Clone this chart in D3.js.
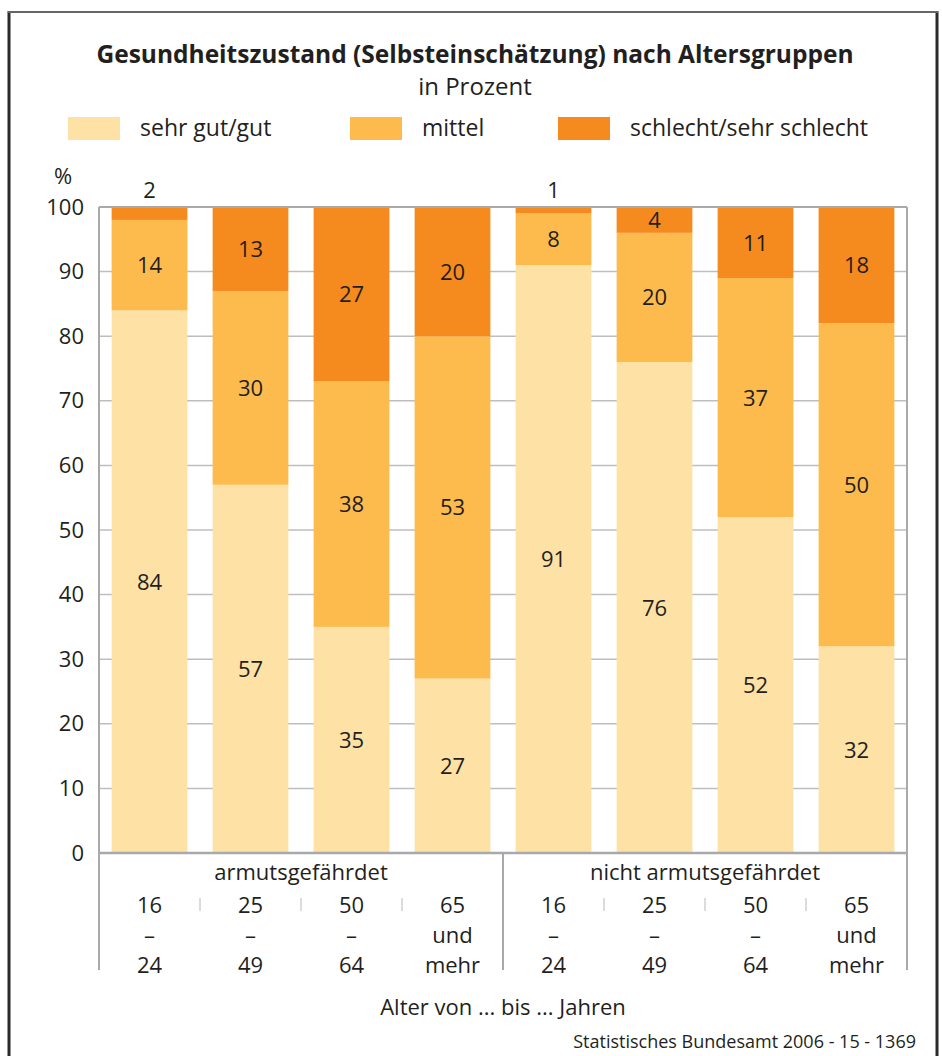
<!DOCTYPE html>
<html>
<head>
<meta charset="utf-8">
<style>
  body { margin: 0; background: #fff; }
  svg text { font-family: "Open Sans", sans-serif; fill: #231f20; }
</style>
</head>
<body>
<svg id="chart" width="942" height="1056"></svg>
<script src="https://cdnjs.cloudflare.com/ajax/libs/d3/7.8.5/d3.min.js"></script>
<script>
// data
var groups = ["armutsgefährdet", "nicht armutsgefährdet"];
var ageTop = ["16", "25", "50", "65"];
var ageMid = ["–", "–", "–", "und"];
var ageBottom = ["24", "49", "64", "mehr"];
var seriesNames = ["sehr gut/gut", "mittel", "schlecht/sehr schlecht"];
var gut = [84, 57, 35, 27, 91, 76, 52, 32];
var mittel = [14, 30, 38, 53, 8, 20, 37, 50];
var schlecht = [2, 13, 27, 20, 1, 4, 11, 18];
var yTicks = [0, 10, 20, 30, 40, 50, 60, 70, 80, 90, 100];
var colors = ["#fee1a4", "#fdbb4e", "#f58a1f"];

var svg = d3.select("#chart");

// frame
svg.append("line").attr("x1", 9).attr("x2", 9).attr("y1", 11).attr("y2", 1056)
  .attr("stroke", "#2a2a2a").attr("stroke-width", 3);
svg.append("line").attr("x1", 937).attr("x2", 937).attr("y1", 11).attr("y2", 1056)
  .attr("stroke", "#2a2a2a").attr("stroke-width", 3);
svg.append("line").attr("x1", 8).attr("x2", 938).attr("y1", 12).attr("y2", 12)
  .attr("stroke", "#666").attr("stroke-width", 2);

// titles
svg.append("text").attr("x", 475).attr("y", 63).attr("text-anchor", "middle")
  .style("font-size", "24.5px").style("font-weight", "bold")
  .text("Gesundheitszustand (Selbsteinschätzung) nach Altersgruppen");
svg.append("text").attr("x", 475).attr("y", 95).attr("text-anchor", "middle")
  .style("font-size", "24px").text("in Prozent");

// legend
var legendX = [68, 350, 558];
seriesNames.forEach(function(n, i) {
  svg.append("rect").attr("x", legendX[i]).attr("y", 117).attr("width", 52).attr("height", 23)
    .attr("fill", colors[i]);
  svg.append("text").attr("x", legendX[i] + 72).attr("y", 136)
    .style("font-size", "23px").text(n);
});

var x0 = 99, x1 = 907, yTop = 207, yBot = 853;
var cats = d3.range(8);
var x = d3.scaleBand().domain(cats).range([x0, x1]).paddingInner(0.25).paddingOuter(0.125);
var y = d3.scaleLinear().domain([0, 100]).range([yBot, yTop]);

// gridlines
svg.append("g").selectAll("line").data(yTicks.filter(function(t) { return t > 0 && t < 100; }))
  .join("line").attr("x1", x0).attr("x2", x1)
  .attr("y1", function(d) { return y(d); }).attr("y2", function(d) { return y(d); })
  .attr("stroke", "#bcbec0").attr("stroke-width", 1.5);

// y axis
var yAxis = svg.append("g").attr("transform", "translate(" + x0 + ",0)")
  .call(d3.axisLeft(y).tickValues(yTicks).tickSize(0).tickPadding(15));
yAxis.select(".domain").remove();
yAxis.selectAll("text").style("font-size", "22px").attr("fill", "#231f20")
  .style("font-family", "'Open Sans', sans-serif");
svg.append("text").attr("x", 63).attr("y", 184).attr("text-anchor", "middle")
  .style("font-size", "22px").text("%");

// stacked bars
var table = cats.map(function(i) { return { i: i, gut: gut[i], mittel: mittel[i], schlecht: schlecht[i] }; });
var stack = d3.stack().keys(["gut", "mittel", "schlecht"])(table);

var layers = svg.append("g").selectAll("g").data(stack).join("g")
  .attr("fill", function(d, k) { return colors[k]; });
layers.selectAll("rect").data(function(d) { return d; }).join("rect")
  .attr("x", function(d) { return x(d.data.i); })
  .attr("width", x.bandwidth())
  .attr("y", function(d) { return y(d[1]); })
  .attr("height", function(d) { return y(d[0]) - y(d[1]); });

// value labels
stack.forEach(function(layer) {
  layer.forEach(function(d) {
    var v = d[1] - d[0];
    var ly = v < 3 ? y(100) - 9 : (y(d[0]) + y(d[1])) / 2 + 8;
    svg.append("text").attr("x", x(d.data.i) + x.bandwidth() / 2).attr("y", ly)
      .attr("text-anchor", "middle").style("font-size", "22px").text(v);
  });
});

// axis frame
var axisCol = "#a7a9ac";
svg.append("line").attr("x1", x0).attr("x2", x1).attr("y1", yTop).attr("y2", yTop)
  .attr("stroke", axisCol).attr("stroke-width", 2);
svg.append("line").attr("x1", x0).attr("x2", x1).attr("y1", yBot).attr("y2", yBot)
  .attr("stroke", axisCol).attr("stroke-width", 2.5);
[x0, x1].forEach(function(px) {
  svg.append("line").attr("x1", px).attr("x2", px).attr("y1", yTop).attr("y2", 970)
    .attr("stroke", axisCol).attr("stroke-width", 2);
});
var mid = (x0 + x1) / 2;
svg.append("line").attr("x1", mid).attr("x2", mid).attr("y1", yBot).attr("y2", 970)
  .attr("stroke", axisCol).attr("stroke-width", 2);

// category labels
groups.forEach(function(g, gi) {
  svg.append("text").attr("x", (x(gi * 4) + x(gi * 4 + 3) + x.bandwidth()) / 2).attr("y", 880)
    .attr("text-anchor", "middle").style("font-size", "22px").text(g);
});
cats.forEach(function(i) {
  var cx = x(i) + x.bandwidth() / 2;
  var k = i % 4;
  [ageTop[k], ageMid[k], ageBottom[k]].forEach(function(t, r) {
    svg.append("text").attr("x", cx).attr("y", 913 + r * 30).attr("text-anchor", "middle")
      .style("font-size", "22px").text(t);
  });
  if (k > 0) {
    var sx = x(i) - x.step() * x.paddingInner() / 2;
    svg.append("line").attr("x1", sx).attr("x2", sx).attr("y1", 898).attr("y2", 911)
      .attr("stroke", "#b8b8b8").attr("stroke-width", 1);
  }
});

svg.append("text").attr("x", mid).attr("y", 1015).attr("text-anchor", "middle")
  .style("font-size", "22px").text("Alter von ... bis ... Jahren");
svg.append("text").attr("x", 916).attr("y", 1048).attr("text-anchor", "end")
  .style("font-size", "18px").text("Statistisches Bundesamt 2006 - 15 - 1369");
</script>
</body>
</html>
